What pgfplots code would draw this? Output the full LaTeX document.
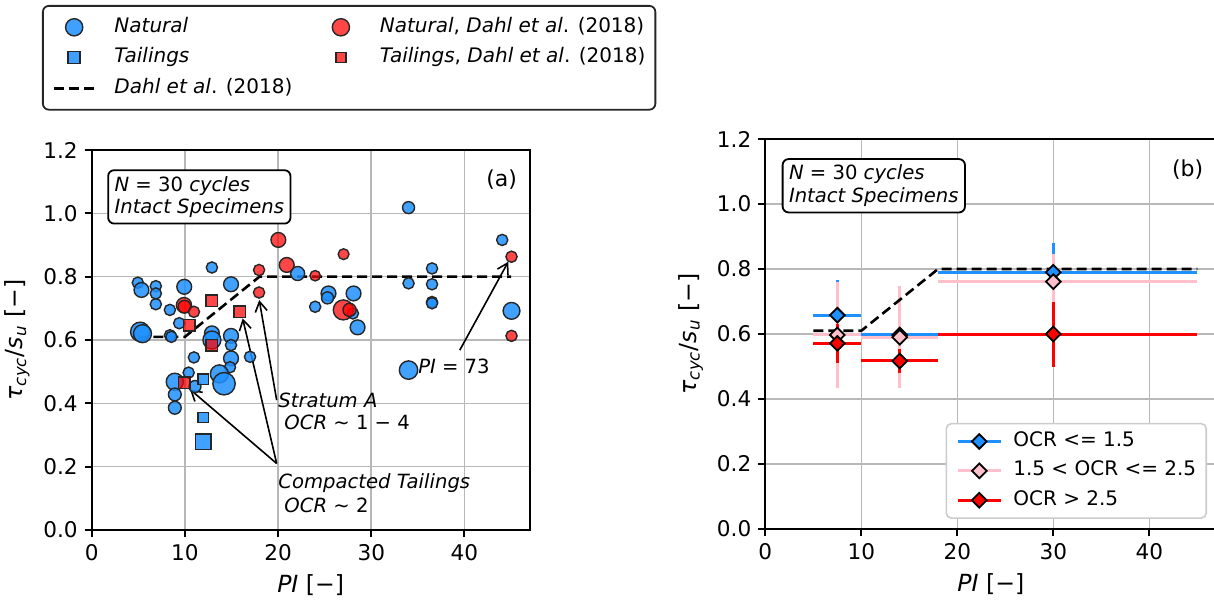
\documentclass[border=0pt]{standalone}
\usepackage{fontspec}
\setmainfont{DejaVu Sans}
\usepackage{pgfplots}
\usepackage{pgfplotstable}
\pgfplotsset{compat=1.18}
\usetikzlibrary{arrows.meta}

\definecolor{natblue}{RGB}{30,144,255}
\definecolor{natred}{RGB}{255,0,0}
\definecolor{ocrblue}{RGB}{30,144,255}
\definecolor{ocrpink}{RGB}{255,192,203}
\definecolor{ocrred}{RGB}{255,0,0}

\newcommand{\txt}{\fontsize{9.8}{11.2}\selectfont}
\newcommand{\lgd}{\fontsize{10}{12}\selectfont}
\newcommand{\tck}{\fontsize{10.8}{13}\selectfont}
\newcommand{\lbl}{\fontsize{11.8}{14}\selectfont}

% Natural specimens: PI, tau_cyc/s_u, marker radius (pt)
\pgfplotstableread{
x y r
4.95 0.781 2.8
5.34 0.758 3.7
6.88 0.770 2.8
6.88 0.747 2.8
6.88 0.713 2.8
8.39 0.695 2.8
9.93 0.768 3.7
9.39 0.653 2.8
5.20 0.626 4.8
5.45 0.620 4.5
8.40 0.615 2.8
8.55 0.610 2.8
12.90 0.829 2.8
14.95 0.776 3.7
12.90 0.621 3.7
12.90 0.600 4.5
14.95 0.613 3.7
14.95 0.584 2.8
10.97 0.545 2.8
14.95 0.542 3.7
16.99 0.547 2.8
14.84 0.514 2.8
13.70 0.493 4.5
14.20 0.462 5.6
10.40 0.497 2.8
8.92 0.468 4.3
8.92 0.428 3.2
8.92 0.386 3.2
11.08 0.453 3.0
22.10 0.810 3.5
25.41 0.747 3.7
25.30 0.733 3.0
28.10 0.747 3.7
23.98 0.705 2.8
28.03 0.684 2.8
28.53 0.640 3.7
34.00 1.018 3.0
44.05 0.916 2.8
36.52 0.826 2.8
34.00 0.779 2.8
36.52 0.776 2.8
36.52 0.720 2.8
36.52 0.716 2.8
45.05 0.692 4.2
34.00 0.505 4.6
}\naturaltab

% Tailings specimens
\pgfplotstableread{
x y r
11.97 0.476 2.7
11.97 0.355 2.6
11.97 0.279 3.8
}\tailtab

% Natural, Dahl et al. (2018)
\pgfplotstableread{
x y r
9.90 0.710 3.8
9.95 0.705 3.2
10.97 0.689 2.8
17.96 0.821 2.8
17.96 0.750 2.8
20.03 0.916 3.7
20.93 0.837 3.7
23.98 0.803 2.6
27.03 0.871 2.7
27.00 0.695 5.0
27.67 0.695 3.3
45.05 0.863 2.8
45.05 0.613 2.8
}\dahlnattab

% Tailings, Dahl et al. (2018)
\pgfplotstableread{
x y r
12.90 0.724 2.9
15.91 0.689 2.9
10.46 0.647 2.9
12.90 0.584 2.9
9.93 0.465 2.9
}\dahltailtab

% Binned means: PI, mean, PI range below/above, std
\pgfplotstableread{
x y xm xp ey
7.5 0.658 2.5 2.5 0.107
14 0.597 4 4 0.080
30 0.790 12 15 0.090
}\lowocr
\pgfplotstableread{
x y xm xp ey
7.5 0.597 2.5 2.5 0.163
14 0.590 4 4 0.157
30 0.761 12 15 0.085
}\midocr
\pgfplotstableread{
x y xm xp ey
7.5 0.571 2.5 2.5 0.060
14 0.517 4 4 0.038
30 0.600 12 15 0.100
}\highocr

\pgfplotsset{
  panel/.style={
    scale only axis,
    xmin=0, xmax=47, ymin=0, ymax=1.2,
    xtick={0,10,20,30,40},
    ytick={0,0.2,0.4,0.6,0.8,1.0,1.2},
    /pgf/number format/assume math mode=true,
    yticklabel style={/pgf/number format/.cd, fixed, fixed zerofill, precision=1},
    tick label style={font=\tck},
    label style={font=\lbl},
    grid=major,
    grid style={black!28, line width=0.8pt},
    axis line style={line width=1.1pt},
    tick style={black, line width=1pt},
    major tick length=3.5pt,
    tick align=outside,
    tick pos=left,
    xlabel={\textit{PI} [−]},
    ylabel={\textit{τ}\textsubscript{\textit{cyc}}/\textit{s}\textsubscript{\textit{u}} [−]},
  },
  bubble/.style={scatter, only marks, forget plot,
    visualization depends on={\thisrow{r}\as\rad},
    scatter/use mapped color={#1},
    scatter/@pre marker code/.append style={/tikz/mark size=\rad pt},
    scatter/@post marker code/.append style={},
  },
  % legend symbol: one marker centred in a 20pt wide cell
  markcell/.style={only marks,
    legend image code/.code={\path[draw=none, fill=none] (0pt,0pt) -- (20pt,0pt); \draw[##1] plot coordinates {(10pt,0pt)};}},
  dahlline/.style={black, line width=1.3pt, dash pattern=on 5pt off 2.5pt},
  errs/.style={forget plot, only marks, mark=none,
    error bars/.cd, x dir=both, x explicit, y dir=both, y explicit,
    error mark=none, error bar style={#1, line width=1.5pt}},
  dmd/.style={forget plot, only marks, mark=square*, mark size=2.6pt,
    mark options={rotate=45, fill=#1, draw=black, line width=0.9pt}},
}

\begin{document}
\begin{tikzpicture}
\useasboundingbox (0,0) rectangle (607pt,300pt);

% ---------------- (a) individual tests ----------------
\begin{axis}[panel,
  at={(45.85pt,35pt)}, anchor=south west,
  width=219pt, height=190pt,
  legend image code/.code={\draw[mark repeat=2,mark phase=2,#1] plot coordinates {(0pt,0pt) (10pt,0pt) (20pt,0pt)};},
  legend columns=2, legend cell align=left,
  legend style={at={(-0.1135,1.3816)}, anchor=north west, font=\lgd,
    draw=black!85, line width=0.9pt, rounded corners=3pt, fill=white,
    inner xsep=5pt, inner ysep=6pt, row sep=5.85pt, column sep=9.5pt,
    /tikz/every even column/.append style={column sep=14.25pt},
    nodes={inner xsep=0pt, inner ysep=0pt, text height=7.2pt, text depth=2.2pt}},
]
\addlegendimage{markcell, mark=*, mark size=4.3pt, mark options={draw=black!85, fill=natblue, fill opacity=0.85, line width=0.7pt}}
\addlegendentry{\textit{Natural}}
\addlegendimage{markcell, mark=*, mark size=4.3pt, mark options={draw=black!85, fill=natred, fill opacity=0.72, line width=0.7pt}}
\addlegendentry{\textit{Natural}, \textit{Dahl et al}. (2018)}
\addlegendimage{markcell, mark=square*, mark size=3pt, mark options={draw=black!85, fill=natblue, fill opacity=0.85, line width=0.7pt}}
\addlegendentry{\textit{Tailings}}
\addlegendimage{markcell, mark=square*, mark size=2.5pt, mark options={draw=black!85, fill=natred, fill opacity=0.72, line width=0.7pt}}
\addlegendentry{\textit{Tailings}, \textit{Dahl et al}. (2018)}
\addlegendimage{dahlline}
\addlegendentry{\textit{Dahl et al}. (2018)}

\addplot[bubble={draw=black!85, fill=natblue, fill opacity=0.85}, mark=*, mark options={line width=0.7pt}] table[x=x,y=y] {\naturaltab};
\addplot[bubble={draw=black!85, fill=natblue, fill opacity=0.85}, mark=square*, mark options={line width=0.7pt}] table[x=x,y=y] {\tailtab};
\addplot[dahlline, forget plot] coordinates {(5,0.61) (10,0.61) (18,0.8) (45,0.8)};
\addplot[bubble={draw=black!85, fill=natred, fill opacity=0.72}, mark=*, mark options={line width=0.7pt}] table[x=x,y=y] {\dahlnattab};
\addplot[bubble={draw=black!85, fill=natred, fill opacity=0.72}, mark=square*, mark options={line width=0.7pt}] table[x=x,y=y] {\dahltailtab};

% annotations
\draw[-{Straight Barb[length=5pt,width=6pt]}, line width=0.8pt] (axis cs:19.85,0.41) -- (axis cs:17.98,0.726);
\draw[-{Straight Barb[length=5pt,width=6pt]}, line width=0.8pt] (axis cs:19.85,0.21) -- (axis cs:16.2,0.668);
\draw[-{Straight Barb[length=5pt,width=6pt]}, line width=0.8pt] (axis cs:19.85,0.21) -- (axis cs:10.55,0.444);
\draw[-{Straight Barb[length=5pt,width=6pt]}, line width=0.8pt] (axis cs:39.5,0.568) -- (axis cs:44.7,0.847);
\node[anchor=west, font=\txt, inner sep=0pt] at (axis cs:19.99,0.410) {\textit{Stratum A}};
\node[anchor=west, font=\txt, inner sep=0pt] at (axis cs:20.64,0.339) {\textit{OCR} ∼ 1 − 4};
\node[anchor=west, font=\txt, inner sep=0pt] at (axis cs:19.99,0.147) {\textit{Compacted Tailings}};
\node[anchor=west, font=\txt, inner sep=0pt] at (axis cs:20.64,0.079) {\textit{OCR} ∼ 2};
\node[anchor=west, font=\txt, inner sep=0pt] at (axis cs:35.0,0.516) {\textit{PI} = 73};
\node[font=\fontsize{11}{13}\selectfont] at (axis cs:44,1.105) {(a)};
\node[anchor=north west, draw=black, line width=0.9pt, rounded corners=3pt, fill=white,
  align=left, inner xsep=3.2pt, inner ysep=3pt, font=\txt] at (axis cs:1.67,1.139)
  {\textit{N} = 30 \textit{cycles}\\\textit{Intact Specimens}};
\end{axis}

% ---------------- (b) binned by OCR ----------------
\begin{axis}[panel,
  at={(382.65pt,35.5pt)}, anchor=south west,
  width=225.6pt, height=195pt,
  legend image code/.code={\draw[mark repeat=2,mark phase=2,#1] plot coordinates {(0pt,0pt) (10.75pt,0pt) (21.5pt,0pt)};},
  legend cell align=left,
  legend style={at={(0.979,0.026)}, anchor=south east, font=\lgd,
    draw=black!20, line width=0.8pt, rounded corners=2.5pt, fill=white,
    inner xsep=5pt, inner ysep=4.2pt, row sep=5.3pt, column sep=5.5pt,
    nodes={inner xsep=0pt, inner ysep=0pt, text height=7.2pt, text depth=2.2pt}},
]
\addlegendimage{ocrblue, line width=1.5pt, mark=square*, mark size=2.6pt, mark options={rotate=45, fill=ocrblue, draw=black, line width=0.9pt}}
\addlegendentry{OCR <= 1.5}
\addlegendimage{ocrpink, line width=1.5pt, mark=square*, mark size=2.6pt, mark options={rotate=45, fill=ocrpink, draw=black, line width=0.9pt}}
\addlegendentry{1.5 < OCR <= 2.5}
\addlegendimage{ocrred, line width=1.5pt, mark=square*, mark size=2.6pt, mark options={rotate=45, fill=ocrred, draw=black, line width=0.9pt}}
\addlegendentry{OCR > 2.5}

\addplot[errs=ocrblue] table[x=x, y=y, x error plus=xp, x error minus=xm, y error=ey] {\lowocr};
\addplot[errs=ocrpink] table[x=x, y=y, x error plus=xp, x error minus=xm, y error=ey] {\midocr};
\addplot[errs=ocrred] table[x=x, y=y, x error plus=xp, x error minus=xm, y error=ey] {\highocr};
\addplot[dahlline, forget plot] coordinates {(5,0.61) (10,0.61) (18,0.8) (45,0.8)};
\addplot[dmd=ocrblue] table[x=x,y=y] {\lowocr};
\addplot[dmd=ocrpink] table[x=x,y=y] {\midocr};
\addplot[dmd=ocrred] table[x=x,y=y] {\highocr};

\node[font=\fontsize{11}{13}\selectfont] at (axis cs:44,1.105) {(b)};
\node[anchor=north west, draw=black, line width=0.9pt, rounded corners=3pt, fill=white,
  align=left, inner xsep=3.2pt, inner ysep=3pt, font=\txt] at (axis cs:1.71,1.141)
  {\textit{N} = 30 \textit{cycles}\\\textit{Intact Specimens}};
\end{axis}
\end{tikzpicture}
\end{document}
